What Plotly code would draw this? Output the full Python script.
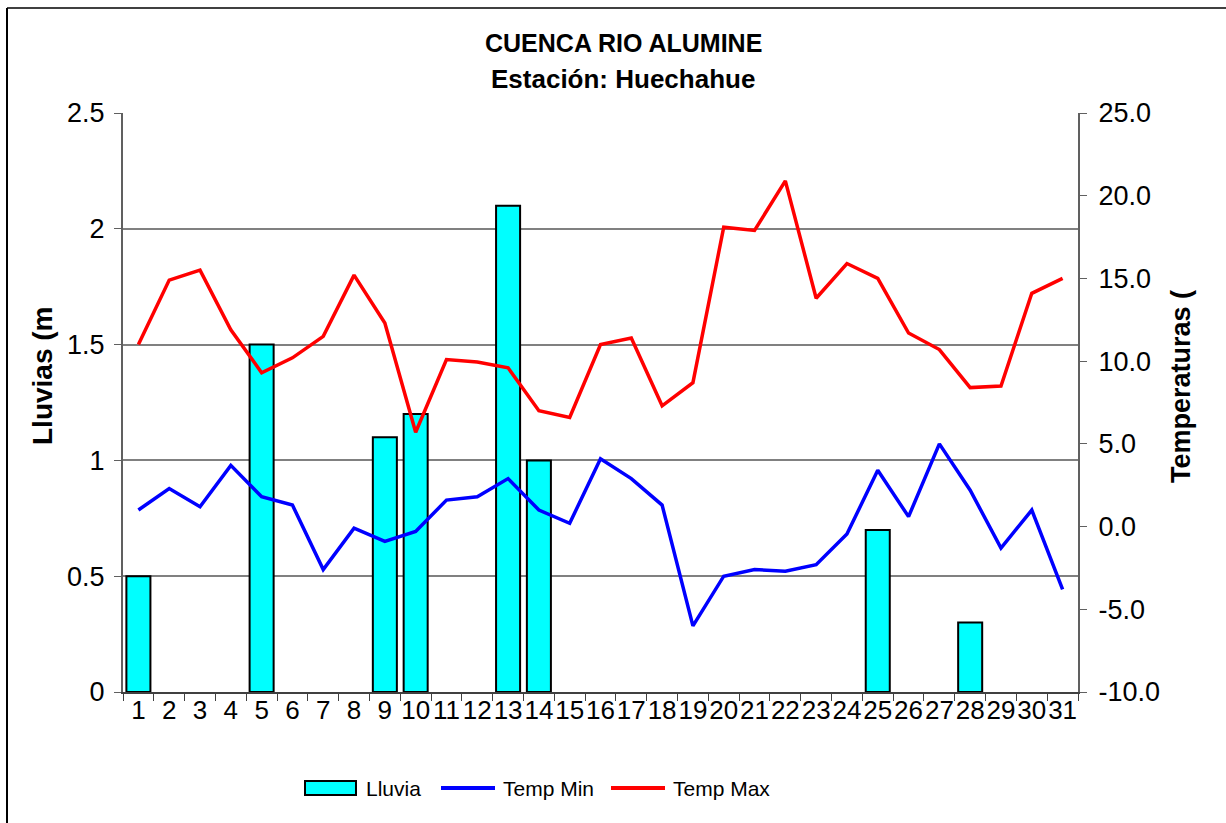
import plotly.graph_objects as go

days = [str(d) for d in range(1, 32)]
lluvia = [0.5, None, None, None, 1.5, None, None, None, 1.1, 1.2, None, None, 2.1, 1.0, None,
          None, None, None, None, None, None, None, None, None, 0.7, None, None, 0.3, None, None, None]
temp_min = [1.0, 2.3, 1.2, 3.7, 1.8, 1.3, -2.6, -0.1, -0.9, -0.3, 1.6, 1.8, 2.9, 1.0, 0.2,
            4.1, 2.9, 1.3, -6.0, -3.0, -2.6, -2.7, -2.3, -0.45, 3.4, 0.6, 5.0, 2.2, -1.3, 1.0, -3.8]
temp_max = [11.0, 14.9, 15.5, 11.9, 9.3, 10.2, 11.5, 15.2, 12.3, 5.7, 10.1, 9.95, 9.6, 7.0, 6.6,
            11.0, 11.4, 7.3, 8.7, 18.1, 17.9, 20.9, 13.8, 15.9, 15.0, 11.7, 10.7, 8.4, 8.5, 14.1, 15.0]
left_ticks = [0, 0.5, 1, 1.5, 2, 2.5]
left_labels = ["0", "0.5", "1", "1.5", "2", "2.5"]
right_ticks = [-10, -5, 0, 5, 10, 15, 20, 25]
right_labels = ["-10.0", "-5.0", "0.0", "5.0", "10.0", "15.0", "20.0", "25.0"]

FONT = "Liberation Sans, Arial, sans-serif"

fig = go.Figure()
fig.add_trace(go.Bar(x=days, y=lluvia, name="Lluvia", width=0.78,
                     marker=dict(color="#00FFFF", line=dict(color="black", width=2)),
                     showlegend=False, yaxis="y"))
fig.add_trace(go.Scatter(x=days, y=temp_min, name="Temp Min", mode="lines",
                         line=dict(color="#0000FF", width=3.5), showlegend=False, yaxis="y2"))
fig.add_trace(go.Scatter(x=days, y=temp_max, name="Temp Max", mode="lines",
                         line=dict(color="#FF0000", width=3.5), showlegend=False, yaxis="y2"))

L, R, T, B = 123, 148, 113, 131
W, H = 1226, 823
PW, PH = W - L - R, H - T - B

def px(x):
    return (x - L) / PW

def py(y):
    return (H - B - y) / PH

TICKSIZE = 27

fig.update_layout(
    width=W, height=H,
    margin=dict(l=L, r=R, t=T, b=B),
    paper_bgcolor="white", plot_bgcolor="white",
    font=dict(family=FONT, color="black", size=22),
    xaxis=dict(type="category", tickson="boundaries", ticks="outside", ticklen=7,
               tickcolor="#404040", showline=True, linecolor="#404040", linewidth=2,
               showgrid=False, tickfont=dict(size=26), tickangle=0,
               tickmode="array", tickvals=days, ticktext=days,
               ticklabelstandoff=-6, range=[-0.5, 30.5]),
    yaxis=dict(range=[0, 2.5], tickvals=left_ticks, ticktext=left_labels,
               ticks="outside", ticklen=7, tickcolor="#606060",
               showline=True, linecolor="#606060", linewidth=2,
               showgrid=True, gridcolor="#808080", gridwidth=1.5,
               tickfont=dict(size=TICKSIZE), zeroline=False, ticklabelstandoff=4),
    yaxis2=dict(range=[-10, 25], tickvals=right_ticks, ticktext=right_labels,
                overlaying="y", side="right", ticks="outside", ticklen=7,
                tickcolor="#606060", showline=True, linecolor="#606060", linewidth=2,
                showgrid=False, zeroline=False, tickfont=dict(size=TICKSIZE),
                ticklabelstandoff=6),
)

ann = [
    dict(text="<b>CUENCA RIO ALUMINE</b>", x=px(623), y=py(43), font=dict(size=25)),
    dict(text="<b>Estación: Huechahue</b>", x=px(623), y=py(79), font=dict(size=26)),
    dict(text="<b>Lluvias (m</b>", x=px(42), y=py(376), textangle=-90, font=dict(size=28)),
    dict(text="<b>Temperaturas (</b>", x=px(1181), y=py(387), textangle=-90, font=dict(size=27)),
    dict(text="Lluvia", x=px(364), y=py(788), xanchor="left", font=dict(size=21)),
    dict(text="Temp Min", x=px(501), y=py(788), xanchor="left", font=dict(size=21)),
    dict(text="Temp Max", x=px(671), y=py(788), xanchor="left", font=dict(size=21)),
]
for a in ann:
    a.setdefault("xanchor", "center")
    fig.add_annotation(xref="paper", yref="paper", yanchor="middle", showarrow=False, **a)

shapes = [
    dict(type="rect", x0=px(305), x1=px(356), y0=py(781), y1=py(795),
         fillcolor="#00FFFF", line=dict(color="black", width=2)),
    dict(type="line", x0=px(441), x1=px(495), y0=py(788), y1=py(788),
         line=dict(color="#0000FF", width=4)),
    dict(type="line", x0=px(611), x1=px(665), y0=py(788), y1=py(788),
         line=dict(color="#FF0000", width=4)),
    dict(type="line", x0=px(7), x1=px(1240), y0=py(8), y1=py(8),
         line=dict(color="#404040", width=2)),
    dict(type="line", x0=px(7), x1=px(7), y0=py(8), y1=py(840),
         line=dict(color="black", width=2)),
]
for s in shapes:
    fig.add_shape(xref="paper", yref="paper", **s)

fig.write_html("out.html", config={"displayModeBar": False},
               post_script="document.body.style.margin='0px';document.body.style.overflow='hidden';")
